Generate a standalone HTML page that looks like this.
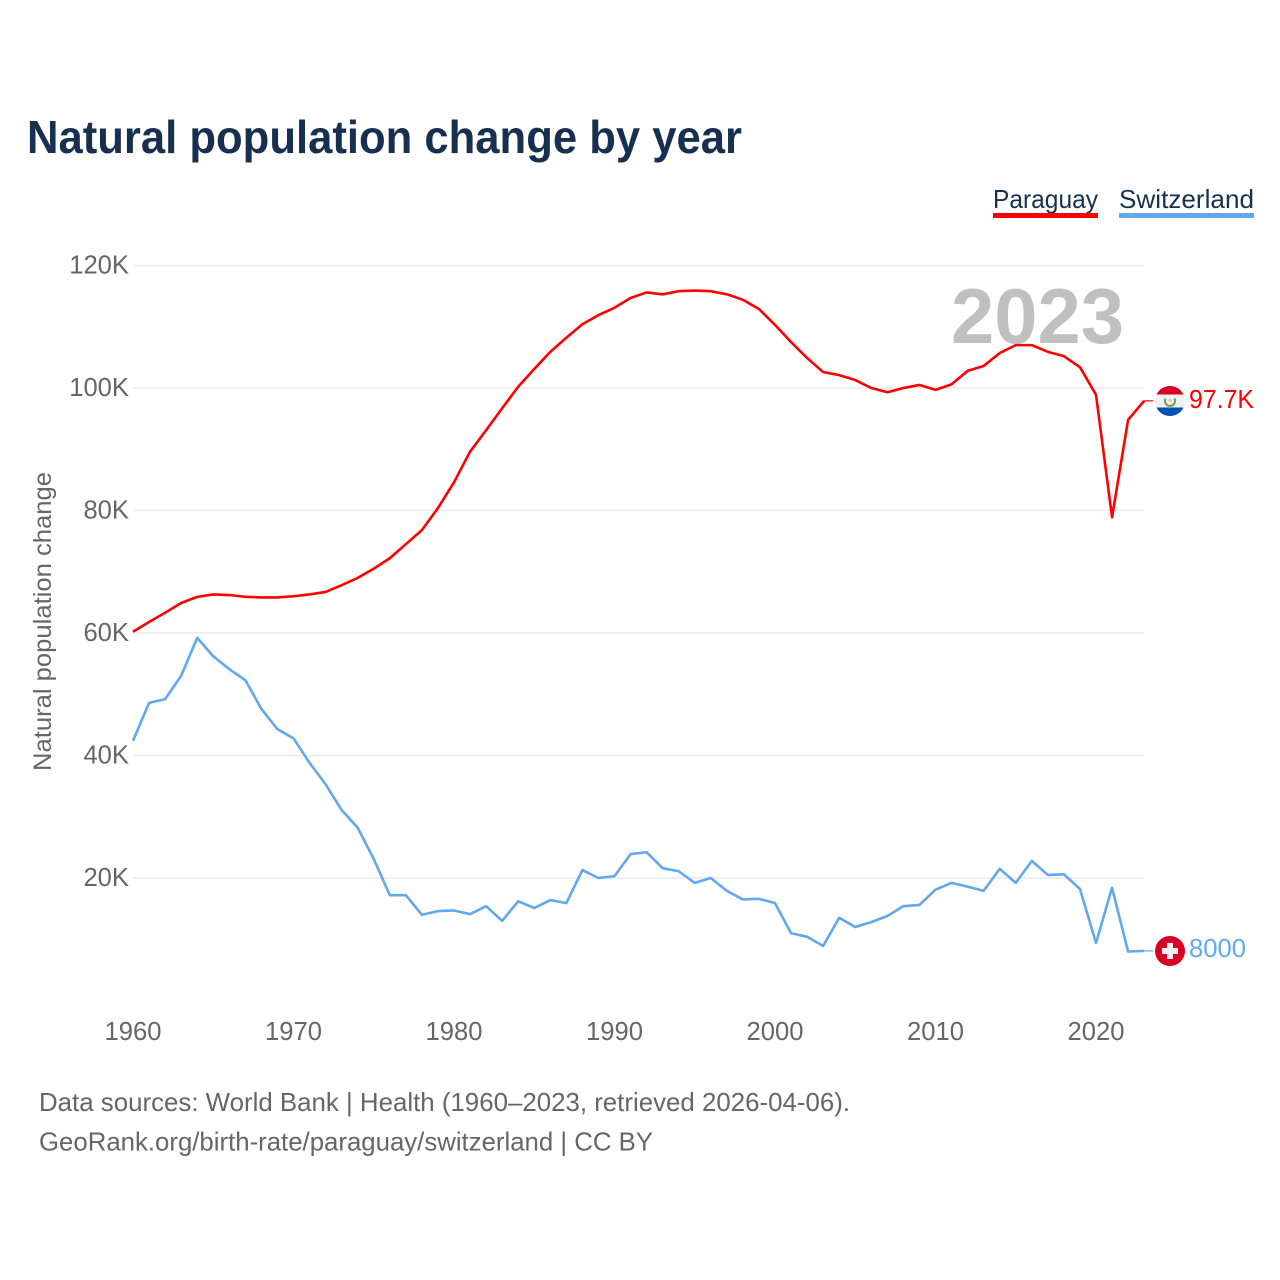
<!DOCTYPE html>
<html lang="en">
<head>
<meta charset="utf-8">
<title>Natural population change by year</title>
<style>
html,body{margin:0;padding:0;background:#fff}
svg{display:block}
text{font-family:"Liberation Sans",sans-serif}
</style>
</head>
<body>
<svg id="chart" xmlns="http://www.w3.org/2000/svg" width="1280" height="1280" viewBox="0 0 1280 1280">
  <rect width="1280" height="1280" fill="#fff"/>
  <text x="27" y="153" font-size="46" font-weight="700" fill="#18304f" textLength="715" lengthAdjust="spacingAndGlyphs">Natural population change by year</text>

  <g>
    <g>
      <text x="993" y="208" font-size="26" fill="#18304f" textLength="105" lengthAdjust="spacingAndGlyphs">Paraguay</text>
      <rect x="993" y="213" width="105" height="5" fill="#ff0000"/>
    </g>
    <g>
      <text x="1119" y="208" font-size="26" fill="#18304f" textLength="135" lengthAdjust="spacingAndGlyphs">Switzerland</text>
      <rect x="1119" y="213" width="135" height="5" fill="#62a8ec"/>
    </g>
  </g>

  <g id="grid"></g>
  <g id="yticks"></g>
  <g id="xticks"></g>

  <text transform="translate(51,771) rotate(-90)" font-size="25" fill="#666666" textLength="299" lengthAdjust="spacingAndGlyphs">Natural population change</text>
  <text x="951" y="343" font-size="78" font-weight="700" fill="#c0c0c0" textLength="173" lengthAdjust="spacingAndGlyphs">2023</text>

  <g id="series"></g>

  <g id="flag-paraguay">
    <clipPath id="py-clip"><circle cx="1170" cy="401" r="15"/></clipPath>
    <g clip-path="url(#py-clip)">
      <rect x="1155" y="386" width="30" height="30" fill="#f0f0f0"/>
      <rect x="1155" y="386" width="30" height="8.5" fill="#d80027"/>
      <rect x="1155" y="407.5" width="30" height="8.5" fill="#0052b4"/>
    </g>
    <path d="M1165.6 398.5a5 5 0 1 0 8.8 0" fill="none" stroke="#6da544" stroke-width="2"/>
    <circle cx="1170" cy="400.5" r="1.6" fill="#ffb6a8"/>
  </g>
  <g id="flag-switzerland">
    <circle cx="1170" cy="951" r="15" fill="#d80027"/>
    <rect x="1167" y="943" width="6" height="16" fill="#f0f0f0"/>
    <rect x="1162" y="948" width="16" height="6" fill="#f0f0f0"/>
  </g>

  <text x="1189" y="408" font-size="26" fill="#ff0000" textLength="65" lengthAdjust="spacingAndGlyphs">97.7K</text>
  <text x="1189" y="957" font-size="26" fill="#62a8ec" textLength="57" lengthAdjust="spacingAndGlyphs">8000</text>

  <text x="39" y="1111" font-size="26" fill="#666666" textLength="811" lengthAdjust="spacingAndGlyphs">Data sources: World Bank | Health (1960–2023, retrieved 2026-04-06).</text>
  <text x="39" y="1150.5" font-size="26" fill="#666666" textLength="614" lengthAdjust="spacingAndGlyphs">GeoRank.org/birth-rate/paraguay/switzerland | CC BY</text>
</svg>
<script>
const startYear = 1960;
const paraguayValues = [60.2,61.8,63.3,64.9,65.9,66.3,66.2,65.9,65.8,65.8,66.0,66.3,66.7,67.8,69.0,70.5,72.2,74.5,76.8,80.4,84.6,89.6,93.1,96.7,100.2,103.1,105.9,108.2,110.4,111.9,113.1,114.7,115.6,115.3,115.8,115.9,115.8,115.3,114.4,112.9,110.3,107.5,104.9,102.6,102.1,101.3,100.0,99.3,100.0,100.5,99.7,100.6,102.8,103.6,105.7,107.0,107.0,105.9,105.2,103.4,98.9,78.9,94.8,97.9];
const switzerlandValues = [42.4,48.6,49.2,53.0,59.2,56.2,54.1,52.3,47.6,44.3,42.8,38.8,35.3,31.1,28.2,23.1,17.2,17.2,14.0,14.6,14.7,14.1,15.4,13.0,16.2,15.1,16.4,15.9,21.3,20.0,20.3,23.9,24.2,21.6,21.1,19.2,20.0,17.9,16.5,16.6,15.9,11.0,10.4,8.9,13.5,12.0,12.8,13.8,15.4,15.6,18.1,19.2,18.6,17.9,21.5,19.2,22.8,20.5,20.6,18.2,9.4,18.4,8.0,8.1];
const yTicks = [20,40,60,80,100,120];
const xTicks = [1960,1970,1980,1990,2000,2010,2020];

const NS = 'http://www.w3.org/2000/svg';
function xScale(year){ return 133 + (year - 1960) * 16.05; }
function yScale(v){ return 1000.5 - v * 6.125; }
function make(tag, attrs, parent){
  const el = document.createElementNS(NS, tag);
  for (const k in attrs) el.setAttribute(k, attrs[k]);
  parent.appendChild(el);
  return el;
}
const grid = document.getElementById('grid');
const yG = document.getElementById('yticks');
const xG = document.getElementById('xticks');
const seriesG = document.getElementById('series');

yTicks.forEach(function(t){
  const line = make('line', {x1:133, x2:1144, y1:yScale(t), y2:yScale(t), stroke:'#ececec', 'stroke-width':1.5}, grid);
  
  
  const label = make('text', {x:129, y:yScale(t)+8, 'text-anchor':'end', 'font-size':25.6, fill:'#666666'}, yG);
  
  
  label.textContent = t + 'K';
});
xTicks.forEach(function(t){
  const label = make('text', {x:xScale(t), y:1040, 'text-anchor':'middle', 'font-size':25.6, fill:'#666666'}, xG);
  
  
  label.textContent = t;
});
function points(values){
  return values.map(function(v,i){ return xScale(startYear+i).toFixed(2)+','+yScale(v).toFixed(2); }).join(' ');
}
const lineP = make('polyline', {points:points(paraguayValues), fill:'none', stroke:'#ff0000', 'stroke-width':2.6, 'stroke-linejoin':'round'}, seriesG);


const lineS = make('polyline', {points:points(switzerlandValues), fill:'none', stroke:'#62a8ec', 'stroke-width':2.6, 'stroke-linejoin':'round'}, seriesG);


const lastX = xScale(startYear + paraguayValues.length - 1);
const stubP = make('line', {x1:lastX, x2:lastX+9, y1:yScale(paraguayValues[paraguayValues.length-1]), y2:yScale(paraguayValues[paraguayValues.length-1]), stroke:'#ff0000', 'stroke-width':1.2}, seriesG);


const stubS = make('line', {x1:lastX, x2:lastX+9, y1:yScale(switzerlandValues[switzerlandValues.length-1]), y2:yScale(switzerlandValues[switzerlandValues.length-1]), stroke:'#62a8ec', 'stroke-width':1.2}, seriesG);


</script>
</body>
</html>
